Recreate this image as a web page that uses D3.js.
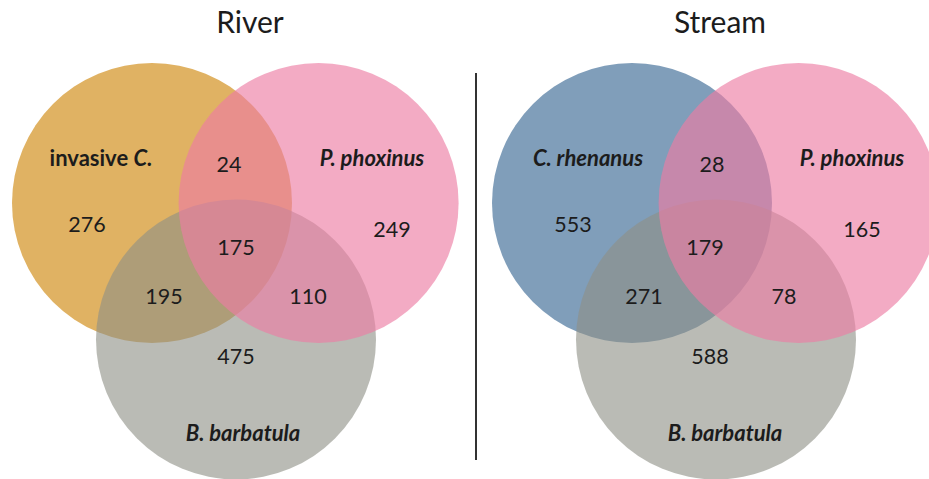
<!DOCTYPE html>
<html>
<head>
<meta charset="utf-8">
<script src="https://cdn.jsdelivr.net/npm/d3@7"></script>
<style>
  body { margin: 0; background: #fff; }
  text { font-family: Lato, "Open Sans", sans-serif; fill: #1c1c1c; }
</style>
</head>
<body>
<div id="chart"></div>
<script>
// data
var panels = ['River', 'Stream'];
var riverSets = ['invasive C.', 'P. phoxinus', 'B. barbatula'];
var streamSets = ['C. rhenanus', 'P. phoxinus', 'B. barbatula'];
// regions: A only, A&B, B only, A&B&C, A&C, B&C, C only
var regions = ['A', 'AB', 'B', 'ABC', 'AC', 'BC', 'C'];
var riverCounts = [276, 24, 249, 175, 195, 110, 475];
var streamCounts = [553, 28, 165, 179, 271, 78, 588];

var w = 929, h = 479;
var svg = d3.select('#chart').append('svg')
  .attr('width', w).attr('height', h);

// circle layout in radius units (A at origin)
var circ = [
  {x: 0, y: 0},
  {x: 1.19, y: 0},
  {x: 0.6, y: 0.975}
];
var r = 140;

// per panel layout: origin of circle A, label offsets (px from circle A)
var layout = [
  {ox: 152, oy: 203, title: 98,
   colors: ['#e0b263', 'gray', 'pink'],
   setPos: [[-51, -45], [220, -45], [91, 230]],
   numPos: {A: [-65, 21], AB: [77, -39], B: [240, 26], ABC: [84, 44], AC: [12, 93], BC: [156, 93], C: [84, 153]}},
  {ox: 632, oy: 203, title: 88,
   colors: ['#809eba', 'gray', 'pink'],
   setPos: [[-44, -45], [220, -45], [93, 230]],
   numPos: {A: [-59, 21], AB: [80, -39], B: [230, 26], ABC: [73, 44], AC: [12, 93], BC: [152, 93], C: [78, 153]}}
];

var setLists = [riverSets, streamSets];
var countLists = [riverCounts, streamCounts];

panels.forEach(function (name, p) {
  var L = layout[p];
  var x = d3.scaleLinear().domain([0, 1]).range([L.ox, L.ox + r]);
  var y = d3.scaleLinear().domain([0, 1]).range([L.oy, L.oy + r]);
  var g = svg.append('g');

  g.append('text')
    .attr('x', L.ox + L.title).attr('y', 33)
    .attr('text-anchor', 'middle')
    .style('font-size', '30px')
    .text(name);

  // draw order: A (opaque), C (gray), B (pink)
  var order = [0, 2, 1];
  order.forEach(function (i) {
    var c = g.append('circle')
      .attr('cx', x(circ[i].x)).attr('cy', y(circ[i].y))
      .attr('r', x(1) - x(0));
    if (i == 0) c.attr('fill', L.colors[0]);
    else if (i == 1) c.attr('fill', 'rgb(236,125,164)').attr('fill-opacity', 0.645);
    else c.attr('fill', 'rgb(142,144,134)').attr('fill-opacity', 0.613);
  });

  g.selectAll('.num')
    .data(countLists[p])
    .enter().append('text')
    .attr('class', 'num')
    .attr('x', (d, i) => L.ox + L.numPos[regions[i]][0])
    .attr('y', (d, i) => L.oy + L.numPos[regions[i]][1])
    .attr('dy', '0.36em')
    .attr('text-anchor', 'middle')
    .style('font-size', '21.5px')
    .text(d => d);

  var sets = g.selectAll('.set')
    .data(setLists[p])
    .enter().append('text')
    .attr('class', 'set')
    .attr('x', (d, i) => L.ox + L.setPos[i][0])
    .attr('y', (d, i) => L.oy + L.setPos[i][1])
    .attr('dy', '0.36em')
    .attr('text-anchor', 'middle')
    .style('font-size', '22px')
    .style('font-weight', 'bold');
  // "invasive" upright, genus/species italic
  sets.each(function (d) {
    var t = d3.select(this);
    if (d.indexOf('invasive ') == 0) {
      t.append('tspan').text('invasive ');
      t.append('tspan').style('font-style', 'italic').text(d.slice(9));
    } else {
      t.style('font-style', 'italic').text(d);
    }
  });
});

// divider
svg.append('line')
  .attr('x1', 476).attr('x2', 476)
  .attr('y1', 73).attr('y2', 460)
  .attr('stroke', '#333')
  .attr('stroke-width', 2);
</script>
</body>
</html>
